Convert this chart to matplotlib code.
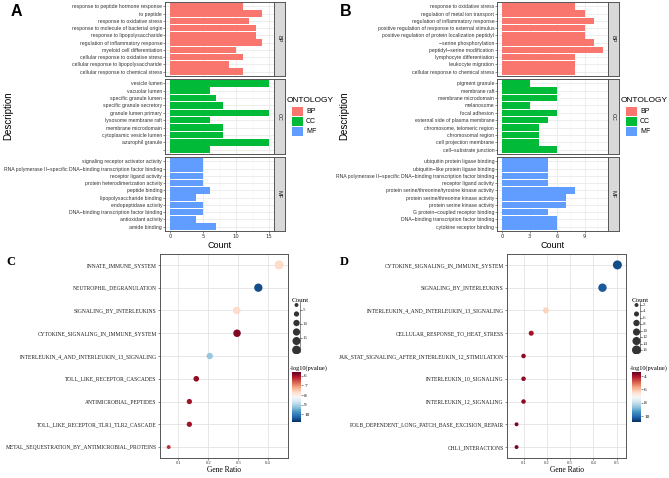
import numpy as np
import matplotlib
matplotlib.use('Agg')
import matplotlib.pyplot as plt
from matplotlib.colors import Normalize
import matplotlib.cm as cm

W, H = 669, 478
SANS = 'Liberation Sans'
SERIF = 'Liberation Serif'

# ---------------- panel A: GO enrichment (bar) ----------------
a_bp_terms = ['response to peptide hormone response', 'to peptide', 'response to oxidative stress',
              'response to molecule of bacterial origin', 'response to lipopolysaccharide',
              'regulation of inflammatory response', 'myeloid cell differentiation',
              'cellular response to oxidative stress', 'cellular response to lipopolysaccharide',
              'cellular response to chemical stress']
a_bp_count = [11, 14, 12, 13, 13, 14, 10, 11, 9, 11]
a_cc_terms = ['vesicle lumen', 'vacuolar lumen', 'specific granule lumen', 'specific granule secretory',
              'granule lumen primary', 'lysosome membrane raft', 'membrane microdomain',
              'cytoplasmic vesicle lumen', 'azurophil granule', '']
a_cc_count = [15, 6, 7, 8, 15, 6, 8, 8, 15, 6]
a_mf_terms = ['signaling receptor activator activity',
              'RNA polymerase II\u2212specific DNA\u2212binding transcription factor binding',
              'receptor ligand activity', 'protein heterodimerization activity', 'peptide binding',
              'lipopolysaccharide binding', 'endopeptidase activity',
              'DNA\u2212binding transcription factor binding', 'antioxidant activity', 'amide binding']
a_mf_count = [5, 5, 5, 5, 6, 4, 5, 5, 4, 7]

# ---------------- panel B: GO enrichment (bar) ----------------
b_bp_terms = ['response to oxidative stress', 'regulation of metal ion transport',
              'regulation of inflammatory response', 'positive regulation of response to external stimulus',
              'positive regulation of protein localization peptidyl', '\u2212serine phosphorylation',
              'peptidyl\u2212serine modification', 'lymphocyte differentiation', 'leukocyte migration',
              'cellular response to chemical stress']
b_bp_count = [8, 9, 10, 9, 9, 10, 11, 8, 8, 8]
b_cc_terms = ['pigment granule', 'membrane raft', 'membrane microdomain', 'melanosome', 'focal adhesion',
              'external side of plasma membrane', 'chromosome, telomeric region', 'chromosomal region',
              'cell projection membrane', 'cell\u2212substrate junction']
b_cc_count = [3, 6, 6, 3, 6, 5, 4, 4, 4, 6]
b_mf_terms = ['ubiquitin protein ligase binding', 'ubiquitin\u2212like protein ligase binding',
              'RNA polymerase II\u2212specific DNA\u2212binding transcription factor binding',
              'receptor ligand activity', 'protein serine/threonine/tyrosine kinase activity',
              'protein serine/threonine kinase activity', 'protein serine kinase activity',
              'G protein\u2212coupled receptor binding', 'DNA\u2212binding transcription factor binding',
              'cytokine receptor binding']
b_mf_count = [5, 5, 5, 5, 8, 7, 7, 5, 6, 6]

ontology = ['BP', 'CC', 'MF']
ont_colors = ['#F8766D', '#00BA38', '#619CFF']

# ---------------- panel C: Reactome (dot) ----------------
c_terms = ['INNATE_IMMUNE_SYSTEM', 'NEUTROPHIL_DEGRANULATION', 'SIGNALING_BY_INTERLEUKINS',
           'CYTOKINE_SIGNALING_IN_IMMUNE_SYSTEM', 'INTERLEUKIN_4_AND_INTERLEUKIN_13_SIGNALING',
           'TOLL_LIKE_RECEPTOR_CASCADES', 'ANTIMICROBIAL_PEPTIDES', 'TOLL_LIKE_RECEPTOR_TLR1_TLR2_CASCADE',
           'METAL_SEQUESTRATION_BY_ANTIMICROBIAL_PROTEINS']
c_ratio = [0.436, 0.367, 0.295, 0.296, 0.205, 0.160, 0.137, 0.137, 0.068]
c_count = [19, 16, 13, 13, 9, 7, 6, 6, 3]
c_logp = [7.7, 10.5, 7.7, 5.8, 9.2, 5.9, 6.0, 6.0, 6.3]
c_legend_counts = [3, 6, 9, 12, 15, 18]
c_legend_labels = [5, 10, 15]
c_cbar_ticks = [6, 7, 8, 9, 10]

# ---------------- panel D: Reactome (dot) ----------------
d_terms = ['CYTOKINE_SIGNALING_IN_IMMUNE_SYSTEM', 'SIGNALING_BY_INTERLEUKINS',
           'INTERLEUKIN_4_AND_INTERLEUKIN_13_SIGNALING', 'CELLULAR_RESPONSE_TO_HEAT_STRESS',
           'JAK_STAT_SIGNALING_AFTER_INTERLEUKIN_12_STIMULATION', 'INTERLEUKIN_10_SIGNALING',
           'INTERLEUKIN_12_SIGNALING', 'POLB_DEPENDENT_LONG_PATCH_BASE_EXCISION_REPAIR', 'CHL1_INTERACTIONS']
d_ratio = [0.503, 0.439, 0.196, 0.133, 0.100, 0.100, 0.100, 0.070, 0.070]
d_count = [15, 13, 6, 4, 3, 3, 3, 2, 2]
d_logp = [10.5, 10.3, 6.3, 4.0, 3.8, 3.8, 3.8, 3.6, 3.6]
d_legend_counts = [2, 4, 7, 9, 12, 15]
d_legend_labels = [2, 4, 6, 8, 10, 12, 14, 16]
d_cbar_ticks = [4, 6, 8, 10]


def px_axes(fig, x0, y0, x1, y1):
    # axes placed by pixel box (y measured from top)
    return fig.add_axes([x0 / W, 1 - y1 / H, (x1 - x0) / W, (y1 - y0) / H])


def ftext(fig, x, y, s, **kw):
    return fig.text(x / W, 1 - y / H, s, **kw)


def bar_facets(fig, x0, x1, terms_list, counts_list, xmax, major, minor):
    tops = [2, 79, 157]
    bots = [76, 154, 231]
    for i in range(3):
        terms, counts = terms_list[i], counts_list[i]
        ax = px_axes(fig, x0, tops[i], x1, bots[i])
        y = np.arange(len(terms))
        ax.barh(y, counts, height=0.9, color=ont_colors[i], zorder=2)
        ax.set_ylim(len(terms) - 0.4, -0.6)
        ax.set_xlim(-0.05 * xmax, 1.05 * xmax)
        ax.set_yticks(y)
        ax.set_yticklabels(terms, fontsize=3.7, family=SANS, color='#333333')
        ax.set_xticks(major)
        ax.set_xticks(minor, minor=True)
        ax.grid(which='major', color='#e6e6e6', lw=0.5)
        ax.grid(which='minor', axis='x', color='#f0f0f0', lw=0.3)
        ax.set_axisbelow(True)
        ax.tick_params(axis='y', length=1.5, width=0.4, pad=0.5, color='#333333')
        ax.tick_params(axis='x', which='major', length=1.5, width=0.4, pad=1,
                       labelsize=3.8, labelcolor='#333333', color='#333333')
        ax.tick_params(axis='x', which='minor', length=0)
        if i < 2:
            ax.tick_params(axis='x', labelbottom=False, length=0)
        for sp in ax.spines.values():
            sp.set_color('#555555')
            sp.set_linewidth(0.7)
        st = px_axes(fig, x1, tops[i], x1 + 11, bots[i])
        st.set_facecolor('#d9d9d9')
        st.set_xticks([])
        st.set_yticks([])
        for sp in st.spines.values():
            sp.set_color('#555555')
            sp.set_linewidth(0.7)
        st.text(0.5, 0.5, ontology[i], rotation=-90, ha='center', va='center',
                fontsize=4, family=SANS, color='#1a1a1a', transform=st.transAxes)
    ftext(fig, (x0 + x1) / 2, 246, 'Count', ha='center', va='center', fontsize=6.5, family=SANS)


def ont_legend(fig, x, y):
    ftext(fig, x, y, 'ONTOLOGY', ha='left', va='center', fontsize=6.0, family=SANS)
    for i, (name, col) in enumerate(zip(ontology, ont_colors)):
        yy = y + 6 + i * 10
        lax = px_axes(fig, x + 5, yy, x + 16, yy + 9)
        lax.set_facecolor(col)
        lax.set_xticks([])
        lax.set_yticks([])
        for sp in lax.spines.values():
            sp.set_visible(False)
        ftext(fig, x + 19, yy + 4.5, name, ha='left', va='center', fontsize=5, family=SANS)


def dot_panel(fig, x0, x1, terms, ratio, count, logp, xlim, xticks, norm,
              cmin, cmax, leg_x, leg_counts, leg_labels, cbar_ticks):
    y0, y1 = 254, 458
    smin, smax = 8.0, 42.0

    def sz(c):
        return smin + (np.asarray(c, float) - cmin) / (cmax - cmin) * (smax - smin)

    ax = px_axes(fig, x0, y0, x1, y1)
    y = np.arange(len(terms))
    ax.scatter(ratio, y, s=sz(count), c=logp, cmap='RdBu', norm=norm, zorder=3, linewidths=0)
    ax.set_ylim(len(terms) - 0.52, -0.48)
    ax.set_xlim(*xlim)
    ax.set_yticks(y)
    ax.set_yticklabels(terms, fontsize=4.0, family=SERIF, color='#1a1a1a')
    ax.set_xticks(xticks)
    ax.set_xticklabels([f'{t:.1f}' for t in xticks], fontsize=3.3, family=SERIF, color='#333333')
    ax.grid(color='#e3e3e3', lw=0.6)
    ax.set_axisbelow(True)
    ax.tick_params(length=1.5, width=0.4, pad=1, color='#333333')
    for sp in ax.spines.values():
        sp.set_color('#555555')
        sp.set_linewidth(0.7)
    ftext(fig, (x0 + x1) / 2, 470, 'Gene Ratio', ha='center', va='center', fontsize=5.5, family=SERIF)

    # size legend
    ftext(fig, leg_x, 300, 'Count', ha='left', va='center', fontsize=5, family=SERIF)
    lg = px_axes(fig, leg_x, 302, leg_x + 30, 354)
    lg.set_xlim(0, 30)
    lg.set_ylim(354, 302)
    lg.axis('off')
    ly = np.linspace(305, 350, len(leg_counts))
    lg.scatter(np.full(len(leg_counts), 4.5), ly, s=sz(leg_counts), color='#333333', linewidths=0)
    if len(leg_labels) > 3:
        tick_y = np.linspace(305, 350, len(leg_labels))
    else:
        tick_y = np.linspace(310, 338, len(leg_labels))
    lg.plot([8, 8], [302, 352], color='#333333', lw=0.4)
    for t, lab in zip(tick_y, leg_labels):
        lg.plot([8, 9.5], [t, t], color='#333333', lw=0.4)
        lg.text(10.5, t, str(lab), ha='left', va='center', fontsize=3.6, family=SERIF, color='#333333')

    # colour bar
    ftext(fig, leg_x - 2, 368, '-log10(pvalue)', ha='left', va='center', fontsize=4.6, family=SERIF)
    cax = px_axes(fig, leg_x, 372, leg_x + 9, 422)
    cb = fig.colorbar(cm.ScalarMappable(norm=norm, cmap='RdBu'), cax=cax, ticks=cbar_ticks)
    cax.invert_yaxis()
    cb.outline.set_visible(False)
    cax.tick_params(length=1.5, width=0.4, pad=0.8, labelsize=3.8, color='#333333',
                    labelfontfamily=SERIF)


fig = plt.figure(figsize=(W / 100, H / 100), dpi=100)

bar_facets(fig, 165, 274, [a_bp_terms, a_cc_terms, a_mf_terms], [a_bp_count, a_cc_count, a_mf_count],
           15, [0, 5, 10, 15], [2.5, 7.5, 12.5])
bar_facets(fig, 497, 608, [b_bp_terms, b_cc_terms, b_mf_terms], [b_bp_count, b_cc_count, b_mf_count],
           11, [0, 3, 6, 9], [1.5, 4.5, 7.5, 10.5])
ont_legend(fig, 287, 101)
ont_legend(fig, 621, 101)
ftext(fig, 8, 116, 'Description', rotation=90, ha='center', va='center', fontsize=7, family=SANS)
ftext(fig, 344, 116, 'Description', rotation=90, ha='center', va='center', fontsize=7, family=SANS)
ftext(fig, 11, 12, 'A', ha='left', va='center', fontsize=11.5, fontweight='bold', family=SANS)
ftext(fig, 340, 12, 'B', ha='left', va='center', fontsize=11.5, fontweight='bold', family=SANS)

dot_panel(fig, 160, 288, c_terms, c_ratio, c_count, c_logp, (0.039, 0.466), [0.1, 0.2, 0.3, 0.4],
          Normalize(5.6, 10.8), 3, 19, 292, c_legend_counts, c_legend_labels, c_cbar_ticks)
dot_panel(fig, 507, 626, d_terms, d_ratio, d_count, d_logp, (0.029, 0.54), [0.1, 0.2, 0.3, 0.4, 0.5],
          Normalize(3.4, 10.9), 2, 15, 632, d_legend_counts, d_legend_labels, d_cbar_ticks)
ftext(fig, 6, 262, 'C', ha='left', va='center', fontsize=9, fontweight='bold', family=SERIF)
ftext(fig, 340, 262, 'D', ha='left', va='center', fontsize=9, fontweight='bold', family=SERIF)

fig.savefig('out.png', dpi=100)
